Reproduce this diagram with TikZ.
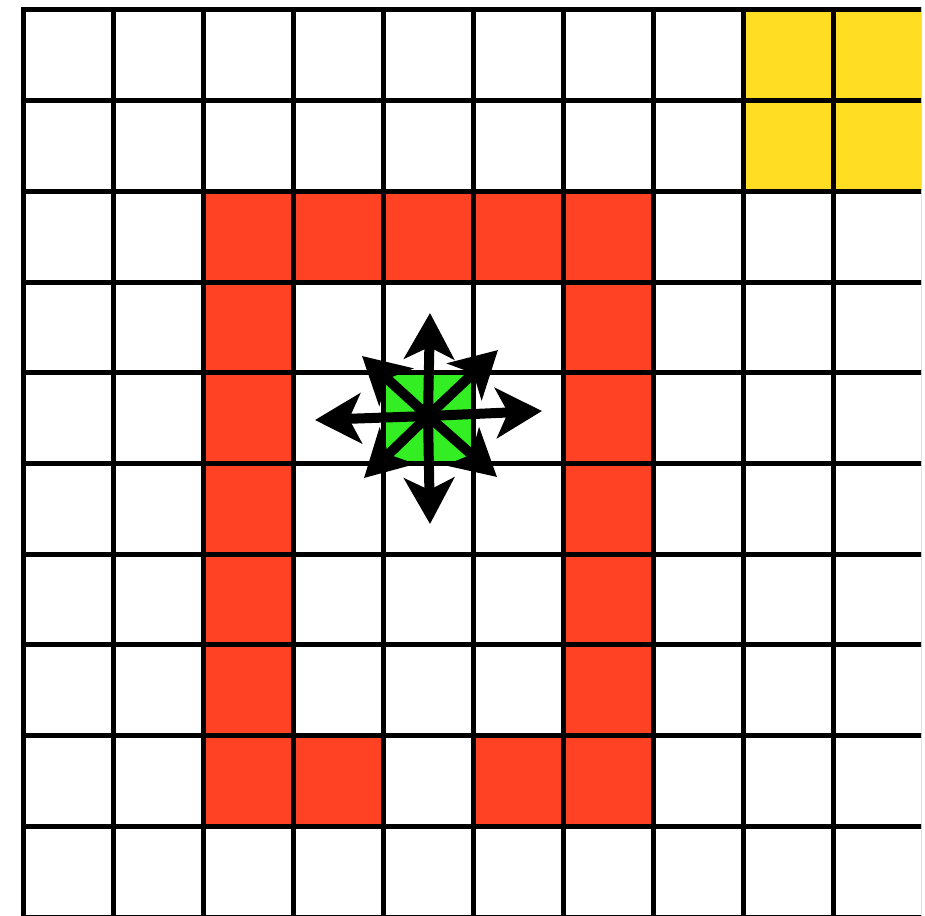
\documentclass[tikz,border=0pt]{standalone}
\usetikzlibrary{arrows.meta}
\definecolor{wallred}{HTML}{FF4124}
\definecolor{goalyellow}{HTML}{FFDD22}
\definecolor{agentgreen}{HTML}{33EE22}
\begin{document}
\begin{tikzpicture}[x=1pt,y=-1pt,
  gridline/.style={line width=5pt,black},
  movearrow/.style={line width=10pt,black,-{Stealth[length=46pt,width=50pt,inset=12pt]},shorten <=-2pt}]
\useasboundingbox (0,0) rectangle (925,915);
\fill[white] (0,0) rectangle (925,915);
\begin{scope}
\clip (0,0) rectangle (921,915);
% cell helper: column c, row r
\def\cellfill#1#2#3{\fill[#1] ({23+90*#2},{10+90.7*#3}) rectangle ({23+90*(#2+1)},{10+90.7*(#3+1)});}
% walls
\foreach \c in {2,...,6} {\cellfill{wallred}{\c}{2}}
\foreach \r in {3,...,8} {\cellfill{wallred}{2}{\r}\cellfill{wallred}{6}{\r}}
\cellfill{wallred}{3}{8}
\cellfill{wallred}{5}{8}
% goal
\foreach \c in {8,9} {\foreach \r in {0,1} {\cellfill{goalyellow}{\c}{\r}}}
% agent
\cellfill{agentgreen}{4}{4}
% grid
\foreach \i in {0,...,10} {\draw[gridline] ({23+90*\i},7.5) -- ({23+90*\i},920);}
\foreach \j in {0,...,10} {\draw[gridline] (20.5,{10+90.7*\j}) -- (930,{10+90.7*\j});}
\end{scope}
% moves
\coordinate (ctr) at (428,416);
\coordinate (tN) at (430,313);
\coordinate (tS) at (430,524);
\coordinate (tW) at (315,420);
\coordinate (tE) at (542,411);
\coordinate (tNW) at (362,356);
\coordinate (tNE) at (498,350);
\coordinate (tSW) at (364,478);
\coordinate (tSE) at (497,477);
\foreach \t in {tN,tS,tW,tE,tNW,tNE,tSW,tSE} {\draw[movearrow] (ctr) -- (\t);}
\end{tikzpicture}
\end{document}
